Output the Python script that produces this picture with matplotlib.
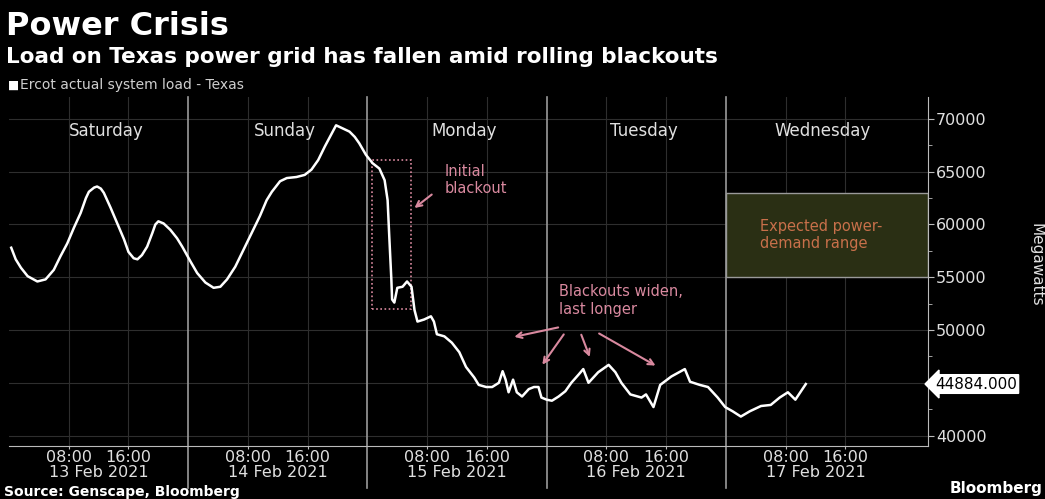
import matplotlib
matplotlib.use("Agg")
import matplotlib.pyplot as plt
from matplotlib.patches import Rectangle
from matplotlib.transforms import blended_transform_factory

# hours since 13 Feb 2021 00:00 and ERCOT load in MW
hours = [0.3, 0.9, 1.6, 2.5, 3.8, 4.9, 6.0, 6.9, 7.8, 8.7, 9.6, 10.3, 10.7, 11.4, 11.8,
         12.3, 12.7, 13.6, 14.5, 15.4, 16.0, 16.7, 17.2, 17.8, 18.5, 19.2, 19.6, 20.0,
         20.7, 21.6, 22.5, 23.2, 24.3, 25.2, 26.3, 27.4, 28.3, 29.2, 30.3, 31.4, 32.5,
         33.6, 34.5, 35.2, 36.3, 37.2, 38.5, 39.6, 40.5, 41.4, 42.3, 43.2, 43.8, 44.7,
         45.6, 46.3, 46.9, 47.8, 48.7, 49.6,
         50.3, 50.7, 50.9, 51.2, 51.3, 51.6, 52.0, 52.7, 53.3,
         53.9, 54.3, 54.7, 55.6, 56.5, 56.9, 57.3, 58.3, 59.3, 60.3, 61.2, 62.3, 62.9,
         63.9, 64.7, 65.6, 66.1, 66.5, 66.9, 67.5, 68.0, 68.7, 69.6, 70.3, 70.9, 71.3,
         72.0, 72.7, 73.6, 74.5, 75.3, 76.3, 76.9, 77.6, 78.9, 80.3, 81.2, 82.0, 83.2,
         84.7, 85.3, 86.3, 87.2, 88.7, 90.5, 91.2, 92.5, 93.6, 94.9, 95.9, 96.9, 98.0,
         99.2, 100.7, 102.0, 103.2, 104.3, 105.3, 106.7]
load = [57800, 56700, 55900, 55100, 54600, 54800, 55700, 57000, 58200, 59700, 61100,
        62500, 63100, 63500, 63600, 63400, 63000, 61600, 60100, 58600, 57400, 56800,
        56700, 57100, 57900, 59200, 60000, 60300, 60100, 59500, 58700, 57900, 56500,
        55400, 54500, 54000, 54100, 54800, 56000, 57600, 59200, 60800, 62300, 63100,
        64100, 64400, 64500, 64700, 65200, 66100, 67400, 68600, 69400, 69100, 68800,
        68300, 67700, 66600, 65800, 65300,
        64200, 62300, 59200, 54800, 52900, 52600, 54000, 54100, 54600,
        54100, 51900, 50800, 51000, 51300, 50800, 49600, 49400, 48800, 47900, 46500,
        45500, 44800, 44600, 44600, 45000, 46100, 45300, 44100, 45300, 44100, 43700,
        44400, 44600, 44600, 43600, 43400, 43300, 43700, 44200, 45000, 45800, 46300,
        45000, 46000, 46700, 46000, 45000, 43900, 43600, 43900, 42700, 44800, 45600,
        46300, 45100, 44800, 44600, 43600, 42700, 42300, 41800, 42300, 42800, 42900,
        43600, 44100, 43400, 44884]

day_names = ["Saturday", "Sunday", "Monday", "Tuesday", "Wednesday"]
dates = ["13 Feb 2021", "14 Feb 2021", "15 Feb 2021", "16 Feb 2021", "17 Feb 2021"]
yticks = [40000, 50000, 55000, 60000, 65000, 70000]
expected_low, expected_high = 55000, 63000
last_value = 44884.000

pink = "#d9899f"

fig = plt.figure(figsize=(10.45, 4.99), dpi=100, facecolor="black")
ax = fig.add_axes([0.0086, 0.106, 0.879, 0.700])
ax.set_facecolor("black")

ax.set_xlim(0, 123)
ax.set_ylim(39000, 72100)

# faint grid
for y in range(40000, 72000, 5000):
    ax.axhline(y, color="#2e2e2e", lw=0.8, zorder=0)
for d in range(6):
    for h in (8, 16):
        ax.axvline(24 * d + h, color="#2e2e2e", lw=0.8, zorder=0)

# day separators, running down through the date labels
for d in range(1, 5):
    ax.axvline(24 * d, ymin=-0.12, ymax=1, color="#9a9a9a", lw=1.2,
               clip_on=False, zorder=1)

for i, name in enumerate(day_names):
    ax.text(24 * i + 13, 68850, name, color="#e0e0e0", fontsize=12,
            ha="center", va="center")

# expected demand box on Wednesday
ax.add_patch(Rectangle((96, expected_low), 27, expected_high - expected_low,
                       facecolor="#2a2f14", edgecolor="#9a9a9a", lw=1, zorder=0.5))
ax.text(100.5, 59000, "Expected power-\ndemand range", color="#c8704a",
        fontsize=10.5, ha="left", va="center", linespacing=1.15)

# initial blackout box
ax.add_patch(Rectangle((48.6, 52000), 5.2, 14100, fill=False, edgecolor=pink,
                       lw=1.2, linestyle=(0, (1, 1.5)), zorder=1))
ax.text(58.3, 64200, "Initial\nblackout", color=pink, fontsize=10.5,
        ha="left", va="center", linespacing=1.2)
ax.annotate("", xy=(54.0, 61400), xytext=(56.9, 63000),
            arrowprops=dict(arrowstyle="->", color=pink, lw=1.5))

ax.text(73.6, 52800, "Blackouts widen,\nlast longer", color=pink, fontsize=10.5,
        ha="left", va="center", linespacing=1.2)
arrows = [((73.9, 50300), (67.3, 49300)),
          ((74.5, 49800), (71.2, 46500)),
          ((76.5, 49800), (77.9, 47200)),
          ((78.7, 49800), (86.9, 46500))]
for start, end in arrows:
    ax.annotate("", xy=end, xytext=start,
                arrowprops=dict(arrowstyle="->", color=pink, lw=1.5))

ax.plot(hours, load, color="white", lw=1.8, zorder=3, solid_joinstyle="round")

# axes styling
for side in ("top", "left"):
    ax.spines[side].set_visible(False)
ax.spines["right"].set_color("#bbbbbb")
ax.spines["bottom"].set_color("#bbbbbb")
ax.yaxis.tick_right()
ax.set_yticks(yticks)
ax.set_yticklabels([str(v) for v in yticks])
ax.set_yticks(range(42500, 72000, 5000), minor=True)
ax.tick_params(axis="y", which="both", colors="#bbbbbb", labelcolor="#e0e0e0",
               labelsize=11.5, length=4, pad=2)
ax.tick_params(axis="y", which="minor", length=3)

xt = [24 * d + h for d in range(5) for h in (8, 16)]
ax.set_xticks(xt)
ax.set_xticklabels(["08:00", "16:00"] * 5)
ax.tick_params(axis="x", colors="#bbbbbb", labelcolor="#e0e0e0",
               labelsize=11.5, length=2, pad=1)

trans = blended_transform_factory(ax.transData, ax.transAxes)
for i, dt in enumerate(dates):
    ax.text(24 * i + 12, -0.055, dt, transform=trans, color="#e0e0e0",
            fontsize=11.5, ha="center", va="top")

# last value tag on the axis
ax.text(1.008, last_value, f"{last_value:.3f}",
        transform=blended_transform_factory(ax.transAxes, ax.transData),
        color="black", fontsize=11, ha="left", va="center",
        bbox=dict(boxstyle="larrow,pad=0.12", fc="white", ec="white"))

fig.text(0.984, 0.47, "Megawatts", color="#e0e0e0", fontsize=11,
         rotation=270, ha="left", va="center")

# titles
fig.text(0.006, 0.978, "Power Crisis", color="white", fontsize=23,
         fontweight="bold", ha="left", va="top")
fig.text(0.006, 0.905, "Load on Texas power grid has fallen amid rolling blackouts",
         color="white", fontsize=15.5, fontweight="bold", ha="left", va="top")
fig.text(0.008, 0.829, "\u25a0", color="white", fontsize=8.5, ha="left", va="center")
fig.text(0.019, 0.829, "Ercot actual system load - Texas", color="#cfcfcf",
         fontsize=10, ha="left", va="center")

fig.text(0.004, 0.014, "Source: Genscape, Bloomberg", color="white", fontsize=10,
         fontweight="bold", ha="left", va="center")
fig.text(0.909, 0.022, "Bloomberg", color="white", fontsize=11,
         fontweight="bold", ha="left", va="center")

fig.savefig("out.png", dpi=100, facecolor="black")
